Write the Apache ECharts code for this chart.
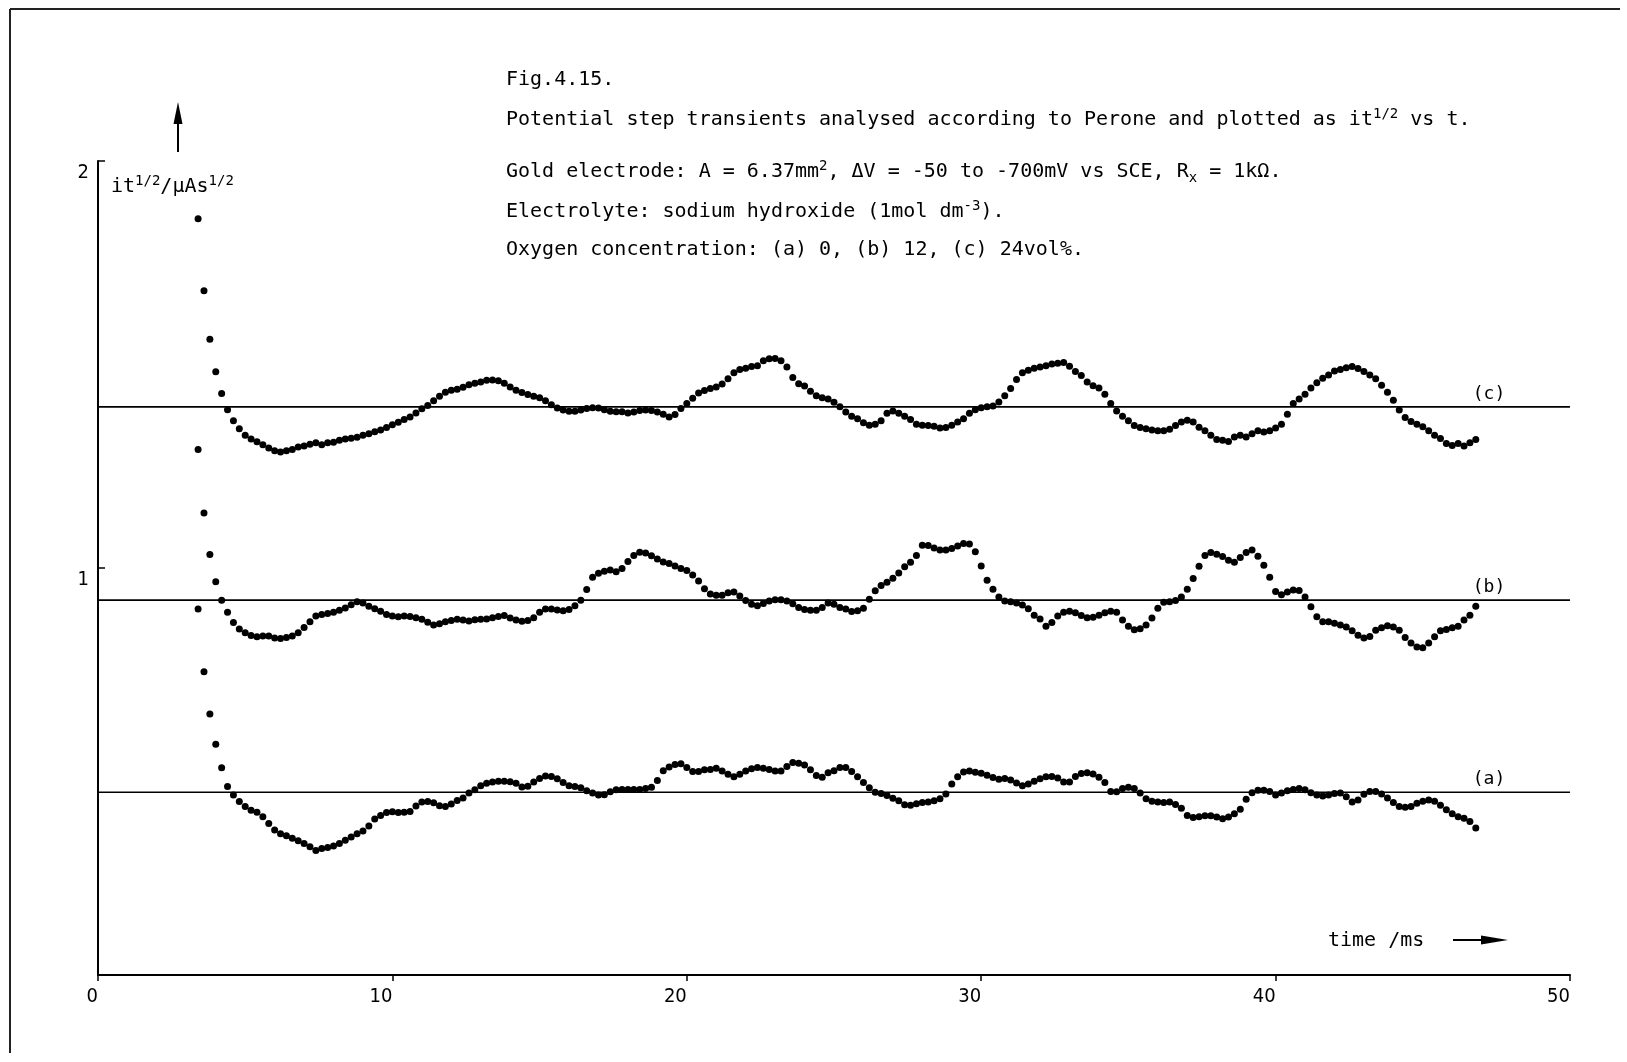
<!DOCTYPE html>
<html>
<head>
<meta charset="utf-8">
<title>Fig. 4.15 – Potential step transients</title>
<script src="https://cdn.jsdelivr.net/npm/echarts@6/dist/echarts.min.js"></script>
<style>
  html, body { margin: 0; padding: 0; background: #ffffff; }
  #chart { width: 1627px; height: 1062px; }
</style>
</head>
<body>
<div id="chart"></div>
<script>
// Sampling instants of the transient recorder (ms)
const timeMs = [
  3.4,3.6,3.8,4.0,4.2,4.4,4.6,4.8,5.0,5.2,
  5.4,5.6,5.8,6.0,6.2,6.4,6.6,6.8,7.0,7.2,
  7.4,7.6,7.8,8.0,8.2,8.4,8.6,8.8,9.0,9.2,
  9.4,9.6,9.8,10.0,10.2,10.4,10.6,10.8,11.0,11.2,
  11.4,11.6,11.8,12.0,12.2,12.4,12.6,12.8,13.0,13.2,
  13.4,13.6,13.8,14.0,14.2,14.4,14.6,14.8,15.0,15.2,
  15.4,15.6,15.8,16.0,16.2,16.4,16.6,16.8,17.0,17.2,
  17.4,17.6,17.8,18.0,18.2,18.4,18.6,18.8,19.0,19.2,
  19.4,19.6,19.8,20.0,20.2,20.4,20.6,20.8,21.0,21.2,
  21.4,21.6,21.8,22.0,22.2,22.4,22.6,22.8,23.0,23.2,
  23.4,23.6,23.8,24.0,24.2,24.4,24.6,24.8,25.0,25.2,
  25.4,25.6,25.8,26.0,26.2,26.4,26.6,26.8,27.0,27.2,
  27.4,27.6,27.8,28.0,28.2,28.4,28.6,28.8,29.0,29.2,
  29.4,29.6,29.8,30.0,30.2,30.4,30.6,30.8,31.0,31.2,
  31.4,31.6,31.8,32.0,32.2,32.4,32.6,32.8,33.0,33.2,
  33.4,33.6,33.8,34.0,34.2,34.4,34.6,34.8,35.0,35.2,
  35.4,35.6,35.8,36.0,36.2,36.4,36.6,36.8,37.0,37.2,
  37.4,37.6,37.8,38.0,38.2,38.4,38.6,38.8,39.0,39.2,
  39.4,39.6,39.8,40.0,40.2,40.4,40.6,40.8,41.0,41.2,
  41.4,41.6,41.8,42.0,42.2,42.4,42.6,42.8,43.0,43.2,
  43.4,43.6,43.8,44.0,44.2,44.4,44.6,44.8,45.0,45.2,
  45.4,45.6,45.8,46.0,46.2,46.4,46.6,46.8
];

// it^1/2 (µA s^1/2), (a) 0 vol% O2
const curveA = [
  0.899,0.745,0.641,0.567,0.509,0.463,0.442,0.426,0.414,0.405,
  0.400,0.389,0.372,0.356,0.347,0.342,0.336,0.330,0.323,0.315,
  0.306,0.311,0.313,0.317,0.323,0.331,0.339,0.347,0.354,0.366,
  0.383,0.392,0.399,0.401,0.399,0.400,0.402,0.415,0.425,0.426,
  0.423,0.416,0.414,0.420,0.429,0.435,0.447,0.455,0.465,0.471,
  0.474,0.476,0.476,0.475,0.471,0.462,0.464,0.474,0.483,0.489,
  0.488,0.482,0.473,0.465,0.463,0.460,0.453,0.447,0.442,0.443,
  0.450,0.455,0.456,0.456,0.456,0.456,0.458,0.461,0.478,0.502,
  0.511,0.517,0.519,0.510,0.500,0.500,0.504,0.505,0.508,0.501,
  0.493,0.487,0.493,0.501,0.507,0.510,0.508,0.505,0.501,0.501,
  0.512,0.522,0.520,0.516,0.504,0.490,0.486,0.497,0.502,0.510,
  0.510,0.500,0.487,0.473,0.460,0.449,0.446,0.441,0.434,0.428,
  0.418,0.417,0.421,0.424,0.425,0.428,0.433,0.445,0.469,0.487,
  0.499,0.501,0.498,0.496,0.491,0.485,0.481,0.483,0.479,0.472,
  0.465,0.469,0.476,0.482,0.487,0.488,0.484,0.474,0.474,0.488,
  0.495,0.497,0.494,0.486,0.473,0.451,0.450,0.458,0.461,0.458,
  0.447,0.433,0.427,0.425,0.424,0.425,0.419,0.410,0.392,0.387,
  0.389,0.391,0.391,0.388,0.384,0.388,0.396,0.407,0.432,0.448,
  0.454,0.454,0.451,0.442,0.447,0.453,0.456,0.458,0.455,0.448,
  0.442,0.440,0.442,0.446,0.447,0.438,0.425,0.430,0.444,0.451,
  0.451,0.445,0.435,0.424,0.414,0.412,0.414,0.422,0.427,0.430,
  0.427,0.417,0.406,0.396,0.389,0.385,0.377,0.361
];

// (b) 12 vol% O2
const curveB = [
  1.291,1.135,1.033,0.966,0.921,0.891,0.866,0.850,0.841,0.834,
  0.831,0.833,0.833,0.828,0.827,0.829,0.833,0.841,0.854,0.868,
  0.882,0.886,0.888,0.891,0.896,0.902,0.910,0.917,0.914,0.906,
  0.900,0.894,0.886,0.882,0.880,0.882,0.881,0.878,0.874,0.867,
  0.860,0.863,0.868,0.871,0.874,0.872,0.870,0.873,0.874,0.875,
  0.878,0.881,0.883,0.877,0.872,0.869,0.871,0.878,0.891,0.899,
  0.899,0.897,0.895,0.898,0.907,0.921,0.947,0.977,0.987,0.992,
  0.995,0.991,0.999,1.016,1.031,1.039,1.037,1.030,1.022,1.015,
  1.011,1.005,0.999,0.994,0.983,0.968,0.949,0.936,0.933,0.933,
  0.939,0.941,0.931,0.920,0.911,0.907,0.913,0.919,0.922,0.922,
  0.919,0.912,0.903,0.898,0.896,0.896,0.903,0.914,0.911,0.903,
  0.899,0.893,0.895,0.901,0.923,0.944,0.957,0.965,0.975,0.988,
  1.003,1.014,1.031,1.056,1.055,1.049,1.044,1.044,1.048,1.054,
  1.060,1.059,1.040,1.005,0.970,0.948,0.929,0.919,0.917,0.914,
  0.909,0.900,0.884,0.875,0.857,0.866,0.882,0.891,0.894,0.890,
  0.883,0.878,0.879,0.884,0.890,0.894,0.891,0.872,0.857,0.848,
  0.851,0.860,0.877,0.901,0.916,0.917,0.920,0.929,0.948,0.974,
  1.004,1.031,1.038,1.034,1.028,1.019,1.014,1.026,1.038,1.044,
  1.029,1.007,0.977,0.942,0.934,0.941,0.946,0.945,0.929,0.905,
  0.880,0.868,0.868,0.864,0.860,0.855,0.846,0.835,0.828,0.832,
  0.847,0.853,0.858,0.855,0.847,0.829,0.816,0.806,0.804,0.816,
  0.831,0.846,0.849,0.853,0.857,0.872,0.884,0.906
];

// (c) 24 vol% O2
const curveC = [
  1.858,1.681,1.562,1.482,1.429,1.389,1.362,1.342,1.326,1.317,
  1.310,1.303,1.295,1.288,1.285,1.288,1.291,1.297,1.300,1.304,
  1.308,1.303,1.308,1.309,1.314,1.317,1.319,1.321,1.326,1.330,
  1.335,1.339,1.345,1.352,1.358,1.365,1.371,1.381,1.391,1.399,
  1.411,1.422,1.432,1.437,1.439,1.444,1.450,1.454,1.457,1.461,
  1.462,1.460,1.454,1.445,1.437,1.431,1.426,1.422,1.418,1.411,
  1.401,1.393,1.388,1.385,1.385,1.388,1.392,1.394,1.393,1.389,
  1.385,1.384,1.384,1.381,1.383,1.387,1.388,1.387,1.383,1.378,
  1.371,1.377,1.392,1.404,1.417,1.430,1.436,1.441,1.445,1.452,
  1.465,1.480,1.488,1.491,1.495,1.497,1.509,1.514,1.515,1.509,
  1.494,1.468,1.453,1.447,1.434,1.423,1.418,1.415,1.407,1.396,
  1.383,1.373,1.367,1.357,1.351,1.353,1.362,1.380,1.386,1.380,
  1.373,1.365,1.353,1.351,1.350,1.348,1.344,1.345,1.351,1.359,
  1.367,1.380,1.389,1.394,1.396,1.398,1.408,1.423,1.441,1.463,
  1.480,1.486,1.491,1.494,1.497,1.501,1.503,1.505,1.496,1.483,
  1.473,1.457,1.448,1.442,1.427,1.404,1.386,1.373,1.362,1.350,
  1.345,1.342,1.339,1.337,1.337,1.341,1.350,1.359,1.363,1.359,
  1.346,1.337,1.326,1.316,1.314,1.311,1.322,1.326,1.322,1.330,
  1.337,1.334,1.337,1.344,1.353,1.378,1.404,1.415,1.427,1.442,
  1.455,1.466,1.474,1.484,1.488,1.492,1.495,1.490,1.483,1.474,
  1.465,1.449,1.432,1.412,1.388,1.370,1.360,1.353,1.347,1.337,
  1.326,1.318,1.306,1.301,1.306,1.300,1.308,1.316
];

// Reference level of each transient and its tag
const baselineValues = [0.449, 0.921, 1.396];
const baselineLabels = ['(a)', '(b)', '(c)'];

// Axis ranges and steps
const xRange = [0, 50];
const xStep = 10;
const yRange = [0, 2];
const yStep = 1;

// Caption (rich-text markup for super/subscripts)
const captionLines = [
  'Fig.4.15.',
  'Potential step transients analysed according to Perone and plotted as it{sup|1/2} vs t.',
  'Gold electrode: A = 6.37mm{sup|2}, ΔV = -50 to -700mV vs SCE, R{sub|x} = 1kΩ.',
  'Electrolyte: sodium hydroxide (1mol dm{sup|-3}).',
  'Oxygen concentration: (a) 0, (b) 12, (c) 24vol%.'
];
const yAxisTitle = 'it{sup|1/2}/μAs{sup|1/2}';
const xAxisTitle = 'time /ms';

const INK = '#000000';
const FONT_TEXT = "'DejaVu Sans Mono', monospace";
const FONT_NARROW = "'DejaVu Sans Condensed', 'DejaVu Sans', sans-serif";

const richScripts = {
  sup: { fontSize: 14, fontFamily: FONT_TEXT, fill: INK, verticalAlign: 'top' },
  sub: { fontSize: 14, fontFamily: FONT_TEXT, fill: INK, verticalAlign: 'bottom' }
};

const chart = echarts.init(document.getElementById('chart'), null, { renderer: 'canvas' });

const dotSeries = [curveA, curveB, curveC].map((vals, k) => ({
  type: 'scatter',
  name: baselineLabels[k],
  data: timeMs.map((t, i) => [t, vals[i]]),
  symbol: 'circle',
  symbolSize: 7,
  itemStyle: { color: INK, opacity: 1 },
  silent: true,
  z: 5
}));

const baseSeries = baselineValues.map((v) => ({
  type: 'line',
  data: [[xRange[0], v], [xRange[1], v]],
  symbol: 'none',
  lineStyle: { color: INK, width: 1.6 },
  silent: true,
  z: 3
}));

const tagSeries = {
  type: 'scatter',
  data: baselineValues.map((v) => [xRange[1], v]),
  symbolSize: 1,
  itemStyle: { color: 'rgba(0,0,0,0)' },
  silent: true,
  label: {
    show: true,
    position: 'top',
    distance: 3,
    offset: [-81, 0],
    formatter: (p) => baselineLabels[p.dataIndex],
    fontFamily: FONT_TEXT,
    fontSize: 18,
    color: INK,
    opacity: 1,
    textBorderWidth: 0
  },
  z: 4
};

const captionY = [80, 120, 172, 212, 250];
const captionGraphics = captionLines.map((line, i) => ({
  type: 'text',
  x: 506,
  y: captionY[i],
  style: {
    text: line,
    fontFamily: FONT_TEXT,
    fontSize: 20,
    fill: INK,
    lineHeight: 26,
    verticalAlign: 'middle',
    align: 'left',
    rich: richScripts
  },
  silent: true
}));

const option = {
  backgroundColor: '#ffffff',
  animation: false,
  grid: { left: 98, right: 57, top: 161, bottom: 87, containLabel: false },
  xAxis: {
    type: 'value',
    min: xRange[0],
    max: xRange[1],
    interval: xStep,
    axisLine: { show: true, lineStyle: { color: INK, width: 2 } },
    axisTick: { show: true, length: 6, lineStyle: { color: INK, width: 1.5 } },
    axisLabel: {
      color: INK, fontFamily: FONT_NARROW, fontSize: 20,
      align: 'right', verticalAlign: 'top', margin: 12
    },
    splitLine: { show: false }
  },
  yAxis: {
    type: 'value',
    min: yRange[0],
    max: yRange[1],
    interval: yStep,
    axisLine: { show: true, lineStyle: { color: INK, width: 2 } },
    axisTick: { show: true, inside: true, length: 7, lineStyle: { color: INK, width: 1.5 } },
    axisLabel: {
      color: INK, fontFamily: FONT_NARROW, fontSize: 20,
      showMinLabel: false, align: 'right', verticalAlign: 'top',
      margin: 9, padding: [2, 0, 0, 0]
    },
    splitLine: { show: false }
  },
  series: [...baseSeries, ...dotSeries, tagSeries],
  graphic: [
    // page frame (left and top edges)
    { type: 'line', shape: { x1: 10, y1: 9, x2: 10, y2: 1053 }, style: { stroke: '#222', lineWidth: 2 }, silent: true },
    { type: 'line', shape: { x1: 10, y1: 9, x2: 1620, y2: 9 }, style: { stroke: '#222', lineWidth: 2 }, silent: true },
    // ordinate arrow
    { type: 'line', shape: { x1: 178, y1: 152, x2: 178, y2: 120 }, style: { stroke: INK, lineWidth: 2 }, silent: true },
    { type: 'polygon', shape: { points: [[178, 102], [173.5, 124], [182.5, 124]] }, style: { fill: INK }, silent: true },
    // abscissa arrow
    { type: 'line', shape: { x1: 1453, y1: 940, x2: 1484, y2: 940 }, style: { stroke: INK, lineWidth: 2 }, silent: true },
    { type: 'polygon', shape: { points: [[1508, 940], [1481, 935.5], [1481, 944.5]] }, style: { fill: INK }, silent: true },
    // axis titles
    {
      type: 'text', x: 111, y: 187,
      style: { text: yAxisTitle, fontFamily: FONT_TEXT, fontSize: 20, fill: INK, lineHeight: 26,
               verticalAlign: 'middle', align: 'left', rich: richScripts },
      silent: true
    },
    {
      type: 'text', x: 1328, y: 941,
      style: { text: xAxisTitle, fontFamily: FONT_TEXT, fontSize: 20, fill: INK,
               verticalAlign: 'middle', align: 'left' },
      silent: true
    },
    ...captionGraphics
  ]
};

chart.setOption(option);
</script>
</body>
</html>
